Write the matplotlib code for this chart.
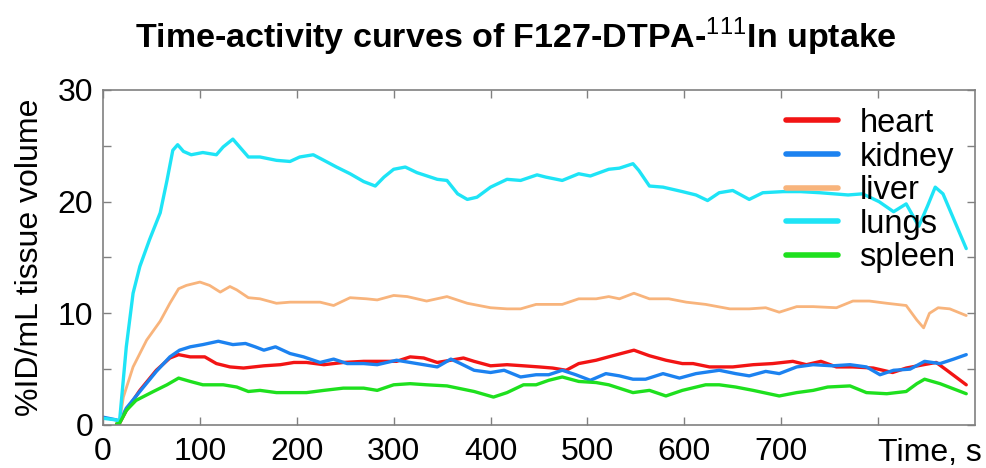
import numpy as np
import matplotlib
matplotlib.use('Agg')
import matplotlib.pyplot as plt

plt.rcParams['font.family'] = ['Liberation Sans', 'DejaVu Sans']
plt.rcParams['mathtext.fontset'] = 'custom'
plt.rcParams['mathtext.rm'] = 'Liberation Sans'
plt.rcParams['mathtext.bf'] = 'Liberation Sans'

# curves (time in s, %ID/mL)
heart_t = [14, 17, 24, 38, 55, 69, 78, 90, 105, 117, 131, 145, 166, 183, 197, 210, 228, 248, 269, 290,
           303, 317, 331, 345, 359, 372, 383, 400, 417, 434, 450, 464, 478, 491, 509, 526, 548, 564, 581,
           598, 609, 626, 650, 671, 691, 712, 726, 741, 757, 774, 795, 815, 829, 847, 860, 871, 891]
heart_y = [0.1, 0.15, 1.3, 3.1, 4.9, 6.0, 6.3, 6.1, 6.1, 5.5, 5.2, 5.1, 5.3, 5.4, 5.6, 5.6, 5.4, 5.6, 5.7, 5.7,
           5.7, 6.1, 6.0, 5.6, 5.8, 6.0, 5.7, 5.3, 5.4, 5.3, 5.2, 5.1, 4.9, 5.5, 5.8, 6.2, 6.7, 6.2, 5.8,
           5.5, 5.5, 5.2, 5.2, 5.4, 5.5, 5.7, 5.4, 5.7, 5.2, 5.2, 5.1, 4.7, 5.1, 5.4, 5.6, 4.9, 3.6]

kidney_t = [0, 14, 17, 24, 38, 55, 69, 79, 90, 103, 119, 134, 147, 157, 166, 178, 193, 207, 224, 238, 252,
            269, 283, 303, 317, 345, 359, 369, 383, 400, 414, 431, 447, 460, 474, 488, 503, 519, 533, 547,
            560, 578, 595, 612, 636, 653, 667, 684, 698, 716, 733, 753, 771, 788, 802, 816, 833, 848, 864,
            878, 891]
kidney_y = [0.7, 0.45, 0.3, 1.5, 3.0, 4.8, 6.1, 6.7, 7.0, 7.2, 7.5, 7.2, 7.3, 7.0, 6.7, 7.0, 6.4, 6.1, 5.6, 5.9, 5.5,
            5.5, 5.4, 5.8, 5.6, 5.2, 5.9, 5.5, 4.9, 4.7, 4.9, 4.3, 4.5, 4.5, 4.9, 4.5, 4.0, 4.6, 4.4, 4.1,
            4.1, 4.6, 4.2, 4.6, 4.9, 4.6, 4.4, 4.8, 4.6, 5.2, 5.4, 5.3, 5.4, 5.2, 4.5, 4.9, 5.0, 5.7, 5.5,
            5.9, 6.3]

liver_t = [14, 17, 21, 31, 45, 59, 69, 78, 86, 100, 110, 121, 131, 138, 150, 162, 179, 193, 207, 224, 238,
           255, 272, 283, 300, 314, 334, 355, 376, 400, 417, 431, 447, 474, 491, 509, 522, 533, 548, 564,
           584, 602, 622, 647, 667, 684, 698, 716, 733, 757, 774, 791, 809, 829, 840, 847, 853, 862, 874, 891]
liver_y = [0.1, 0.3, 2.5, 5.2, 7.6, 9.3, 10.9, 12.2, 12.5, 12.8, 12.5, 11.9, 12.4, 12.1, 11.4, 11.3, 10.9, 11.0,
           11.0, 11.0, 10.7, 11.4, 11.3, 11.2, 11.6, 11.5, 11.1, 11.5, 10.9, 10.5, 10.4, 10.4, 10.8, 10.8,
           11.3, 11.3, 11.5, 11.3, 11.8, 11.3, 11.3, 11.0, 10.8, 10.4, 10.4, 10.5, 10.1, 10.6, 10.6, 10.5,
           11.1, 11.1, 10.9, 10.7, 9.4, 8.7, 10.0, 10.5, 10.4, 9.8]

lungs_t = [0, 14, 17, 24, 31, 38, 48, 59, 66, 72, 77, 83, 91, 103, 117, 124, 134, 141, 150, 162, 179, 193,
           203, 217, 228, 241, 255, 269, 281, 290, 300, 312, 324, 345, 355, 366, 376, 386, 400, 417, 431,
           448, 457, 474, 491, 503, 522, 533, 547, 553, 564, 578, 598, 612, 624, 636, 650, 667, 681, 702,
           720, 740, 769, 784, 801, 816, 829, 842, 851, 859, 867, 891]
lungs_y = [0.6, 0.45, 0.3, 7.0, 11.8, 14.2, 16.6, 19.0, 21.9, 24.6, 25.1, 24.5, 24.2, 24.4, 24.2, 24.9, 25.6,
           24.9, 24.0, 24.0, 23.7, 23.6, 24.0, 24.2, 23.7, 23.1, 22.5, 21.8, 21.4, 22.2, 22.9, 23.1, 22.6,
           22.0, 21.9, 20.7, 20.2, 20.4, 21.3, 22.0, 21.9, 22.4, 22.2, 21.9, 22.5, 22.3, 22.9, 23.0, 23.4,
           22.8, 21.4, 21.3, 20.9, 20.6, 20.1, 20.8, 21.0, 20.2, 20.8, 20.9, 20.9, 20.8, 20.6, 20.7, 20.0,
           19.1, 19.8, 17.8, 19.6, 21.3, 20.7, 15.8]

spleen_t = [14, 17, 24, 34, 52, 66, 78, 90, 103, 124, 138, 150, 162, 179, 193, 210, 228, 248, 269, 283, 300,
            317, 334, 355, 383, 403, 417, 434, 447, 460, 474, 491, 509, 522, 547, 564, 581, 598, 622, 636,
            653, 671, 698, 716, 733, 748, 771, 788, 809, 829, 840, 848, 864, 891]
spleen_y = [0.1, 0.15, 1.3, 2.2, 3.0, 3.6, 4.2, 3.9, 3.6, 3.6, 3.4, 3.0, 3.1, 2.9, 2.9, 2.9, 3.1, 3.3, 3.3, 3.1,
            3.6, 3.7, 3.6, 3.5, 3.0, 2.5, 2.9, 3.6, 3.6, 4.0, 4.3, 3.9, 3.8, 3.6, 2.9, 3.1, 2.6, 3.1, 3.6,
            3.6, 3.4, 3.1, 2.6, 2.9, 3.1, 3.4, 3.5, 2.9, 2.8, 3.0, 3.7, 4.1, 3.7, 2.8]

x_ticks = [0, 100, 200, 300, 400, 500, 600, 700, 800]
x_labels = ['0', '100', '200', '300', '400', '500', '600', '700', '']

series = [
    ('heart', heart_t, heart_y, '#f21414', 2.4),
    ('kidney', kidney_t, kidney_y, '#1c82f0', 2.4),
    ('liver', liver_t, liver_y, '#f8b47c', 2.0),
    ('lungs', lungs_t, lungs_y, '#1ee4f6', 2.4),
    ('spleen', spleen_t, spleen_y, '#1ee01e', 2.4),
]

fig = plt.figure(figsize=(9.87, 4.68), dpi=100)
ax = fig.add_axes([0.1044, 0.0919, 0.8834, 0.7158])

for name, t, y, col, lw in series:
    ax.plot(t, y, color=col, lw=lw, label=name, solid_joinstyle='round', solid_capstyle='round')

ax.set_xlim(0, 900)
ax.set_ylim(0, 30)
ax.set_xticks(x_ticks)
ax.set_xticklabels(x_labels)
ax.set_yticks([0, 10, 20, 30])
ax.set_yticks([5, 15, 25], minor=True)
ax.tick_params(which='both', direction='in', length=6, width=1, color='#808080',
               top=True, right=True, labelsize=23)
ax.tick_params(axis='x', pad=9)
ax.tick_params(axis='y', pad=7)
for s in ax.spines.values():
    s.set_color('#808080')
    s.set_linewidth(1.2)

ax.set_ylabel('%ID/mL tissue volume', fontsize=23)
ax.yaxis.set_label_coords(-0.066, 0.5)

fig.text(982 / 987, 1 - 461 / 468, 'Time, s', fontsize=23, ha='right', va='baseline')

fig.text(0.523, 1 - 48 / 468, r'Time-activity curves of F127-DTPA-$^{111}$In uptake',
         fontsize=24.5, fontweight='bold', ha='center', va='baseline')

leg = ax.legend(loc='upper right', bbox_to_anchor=(1.0, 1.005), frameon=False, fontsize=23.5,
                handlelength=1.6, handletextpad=0.65, labelspacing=0.08, borderaxespad=0.2)
for line in leg.get_lines():
    line.set_linewidth(4)

fig.savefig('out.png', dpi=100)
